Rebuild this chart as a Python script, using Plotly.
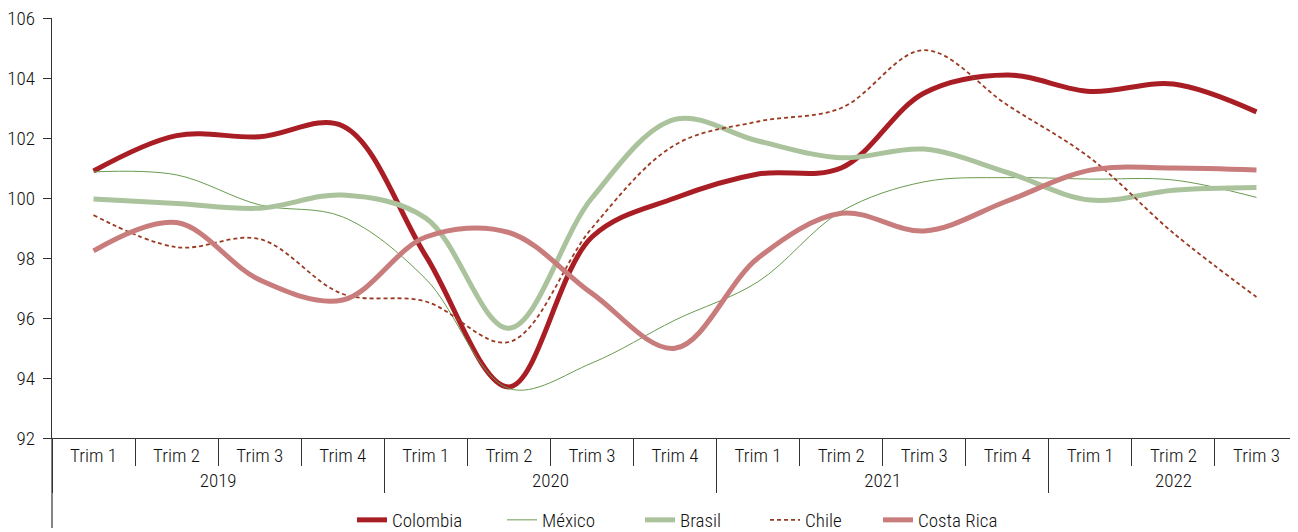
import plotly.graph_objects as go

years = ["2019"] * 4 + ["2020"] * 4 + ["2021"] * 4 + ["2022"] * 3
trims = ["Trim 1", "Trim 2", "Trim 3", "Trim 4"] * 3 + ["Trim 1", "Trim 2", "Trim 3"]

colombia = [100.9, 102.08, 102.04, 102.4, 98.07, 93.7, 98.7, 100.0, 100.8, 101.0, 103.5, 104.1, 103.55, 103.8, 102.87]
mexico = [100.87, 100.77, 99.77, 99.37, 97.3, 93.65, 94.5, 95.93, 97.21, 99.55, 100.54, 100.68, 100.63, 100.6, 100.02]
brasil = [99.97, 99.82, 99.66, 100.1, 99.33, 95.66, 100.0, 102.62, 101.9, 101.34, 101.63, 100.85, 99.93, 100.26, 100.35]
chile = [99.43, 98.36, 98.63, 96.8, 96.55, 95.2, 99.0, 101.77, 102.55, 103.0, 104.93, 103.1, 101.33, 98.83, 96.7]
costa_rica = [98.24, 99.18, 97.27, 96.6, 98.7, 98.85, 96.82, 94.99, 98.0, 99.49, 98.9, 99.9, 100.93, 101.0, 100.93]

y_ticks = [92, 94, 96, 98, 100, 102, 104, 106]

FONT = "Noto Sans Condensed, Roboto Condensed, Liberation Sans Narrow, DejaVu Sans Condensed, sans-serif"
TXT = "#111111"
FS = 19
WEIGHT = 300

# page body has an 8px margin, so the figure is placed at (8, 8)
OFF = 8
series = [
    ("Colombia", colombia, dict(color="#A81E24", width=5), "legend", 357),
    ("México", mexico, dict(color="#6A9A50", width=1), "legend2", 507),
    ("Brasil", brasil, dict(color="#ABC39C", width=5), "legend3", 645),
    ("Chile", chile, dict(color="#9B3A22", width=1.8, dash="4px,3px"), "legend4", 770),
    ("Costa Rica", costa_rica, dict(color="#C87C7C", width=5), "legend5", 883),
]

W, H = 1298 - OFF, 532 - OFF
ML, MR, MT = 52 - OFF, 0, 18 - OFF
PH = 420
MB = H - MT - PH
PW = W - ML - MR

fig = go.Figure()
x = [years, trims]
for name, vals, line, lg, _ in series:
    fig.add_trace(go.Scatter(
        x=x, y=vals, name=name, mode="lines",
        line=dict(shape="spline", smoothing=1.0, **line),
        legend=lg,
    ))

legend_y = (MT + PH - (520 - OFF)) / PH
layout_legends = {}
for name, vals, line, lg, sx in series:
    layout_legends[lg] = dict(
        x=(sx - 5 - OFF - ML) / PW, xanchor="left",
        y=legend_y, yanchor="middle",
        orientation="h", bgcolor="rgba(0,0,0,0)",
        font=dict(family=FONT, size=FS, color=TXT, weight=WEIGHT),
        borderwidth=0, itemwidth=30,
    )

fig.update_layout(
    width=W, height=H,
    margin=dict(l=ML, r=MR, t=MT, b=MB, autoexpand=False),
    paper_bgcolor="white", plot_bgcolor="white",
    font=dict(family=FONT, size=FS, color=TXT, weight=WEIGHT),
    showlegend=True,
    **layout_legends,
)

fig.update_xaxes(
    type="multicategory",
    range=[-0.5, 14.5],
    automargin=False,
    showline=True, linecolor="#333333", linewidth=1.2,
    ticks="outside", tickson="boundaries", ticklen=27, tickcolor="#333333", tickwidth=1.2,
    showdividers=True, dividercolor="#333333", dividerwidth=1.2,
    ticklabelstandoff=0,
    showgrid=False, zeroline=False,
    tickfont=dict(family=FONT, size=FS, color=TXT, weight=WEIGHT),
)
fig.update_yaxes(
    range=[92, 106], tickvals=y_ticks,
    automargin=False, ticklabeloverflow="allow",
    showline=True, linecolor="#333333", linewidth=1.2,
    ticks="outside", ticklen=8, tickcolor="#333333", tickwidth=1.2,
    ticklabelstandoff=4,
    showgrid=False, zeroline=False,
    tickfont=dict(family=FONT, size=19, color=TXT, weight=WEIGHT),
)

# left axis line extends below the plot area as in the original
fig.add_shape(type="line", xref="paper", yref="paper", x0=0, x1=0, y0=0,
              y1=-(528 - 438) / PH, line=dict(color="#333333", width=1.2))

fig.write_html("out.html")
